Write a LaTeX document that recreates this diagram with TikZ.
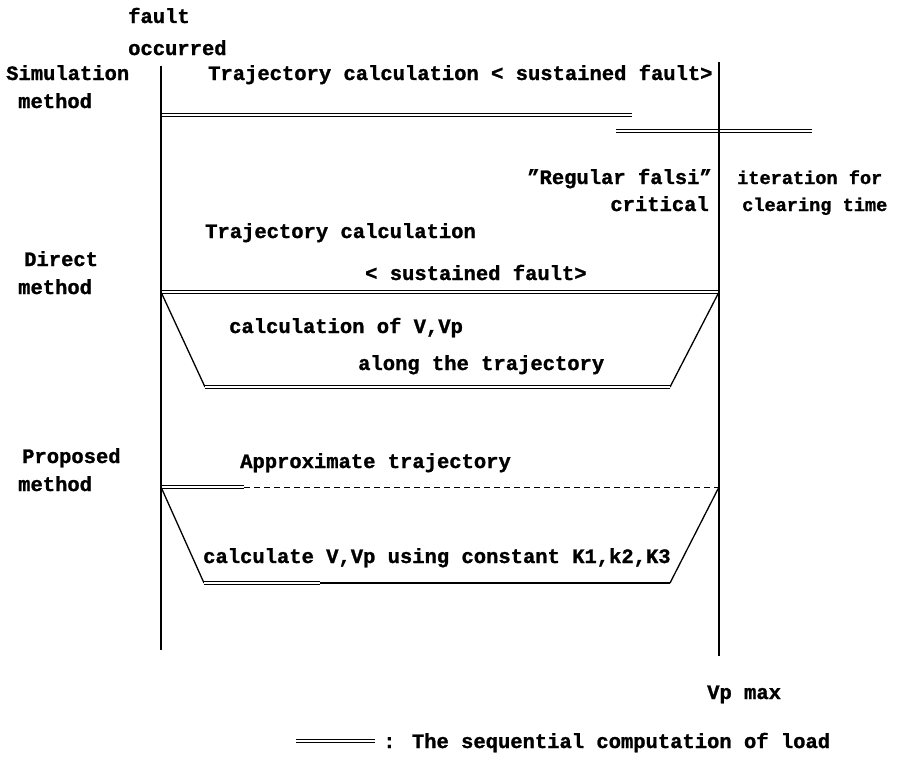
\documentclass[tikz,border=0pt]{standalone}
\usepackage{fontspec}
\setmainfont[BoldFeatures={FakeBold=1.2}]{Liberation Mono}
\usetikzlibrary{positioning}
\begin{document}
\begin{tikzpicture}[x=1pt, y=-1pt,
  lbl/.style={anchor=base west, inner sep=0pt,
              font=\fontsize{20.5}{24}\selectfont\bfseries},
  lblr/.style={lbl, anchor=base east},
  lbls/.style={lbl, font=\fontsize{18.6}{24}\selectfont\bfseries},
  axis/.style={line width=1.6pt},
  load/.style={double, double distance=2.2pt, line width=0.9pt},
  slant/.style={line width=1.3pt},
  plain/.style={line width=1.1pt}
]
\useasboundingbox (0,0) rectangle (899,772);

% time axes: fault occurred / Vp max
\coordinate (f0) at (161,66);
\coordinate (f1) at (161,650);
\coordinate (m0) at (719,62);
\coordinate (m1) at (719,656);

% Simulation method
\node[lbl] (fault) at (128,23) {fault};
\node[lbl] (occ)   at (128,55) {occurred};
\node[lbl] (sim1)  at (6,80)   {Simulation};
\node[lbl] (sim2)  at (18,108) {method};
\node[lbl] (simtr) at (208,80) {Trajectory calculation < sustained fault>};
\coordinate (s0) at (161,115);
\coordinate (s1) at (632,115);
\coordinate (r0) at (616,131);
\coordinate (r1) at (812,131);
\draw[load] (s0) -- (s1);
\draw[load] (r0) -- (r1);
\node[lblr] (regf) at (712,184) {\symbol{34}Regular falsi\symbol{34}};
\node[lblr] (crit) at (709,211) {critical};
\node[lbls] (iter) at (737,184) {iteration for};
\node[lbls] (clr)  at (742,211) {clearing time};

% Direct method
\node[lbl] (dir1) at (24,266)  {Direct};
\node[lbl] (dir2) at (18,294)  {method};
\node[lbl] (dtr1) at (205,238) {Trajectory calculation};
\node[lbl] (dtr2) at (365,280) {< sustained fault>};
\coordinate (d0) at (161,292);
\coordinate (d1) at (719,292);
\coordinate (d2) at (205,387);
\coordinate (d3) at (670,387);
\draw[load] (d0) -- (d1);
\draw[slant] (d0) -- (d2);
\draw[slant] (d1) -- (d3);
\draw[load] (d2) -- (d3);
\node[lbl] (dv1) at (229,333) {calculation of V,Vp};
\node[lbl] (dv2) at (358,370) {along the trajectory};

% Proposed method
\node[lbl] (pro1) at (22,463)  {Proposed};
\node[lbl] (pro2) at (18,491)  {method};
\node[lbl] (app)  at (240,468) {Approximate trajectory};
\coordinate (p0) at (161,487);
\coordinate (pa) at (244,487);
\coordinate (p1) at (719,487);
\coordinate (p2) at (204,583);
\coordinate (pb) at (320,583);
\coordinate (p3) at (670,583);
\draw[load] (p0) -- (pa);
\draw[dashed, line width=0.9pt, dash pattern=on 6pt off 4pt] (pa) -- (p1);
\draw[slant] (p0) -- (p2);
\draw[slant] (p1) -- (p3);
\draw[load] (p2) -- (pb);
\draw[plain] (pb) -- (p3);
\node[lbl] (pv) at (203,563) {calculate V,Vp using constant K1,k2,K3};

\draw[axis] (f0) -- (f1);
\draw[axis] (m0) -- (m1);

\node[lbl] (vpm) at (707,699) {Vp max};

% legend
\coordinate (g0) at (296,741);
\coordinate (g1) at (375,741);
\draw[load] (g0) -- (g1);
\node[lbl] (leg) at (383,748) {: The sequential computation of load};
\end{tikzpicture}
\end{document}
